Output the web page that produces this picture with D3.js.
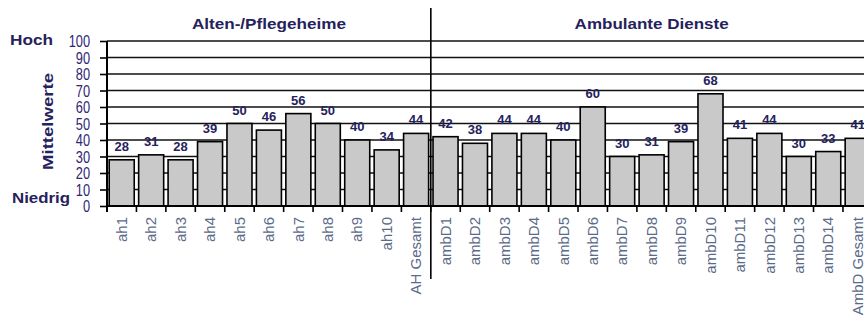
<!DOCTYPE html>
<html><head><meta charset="utf-8">
<script src="https://cdn.jsdelivr.net/npm/d3@7"></script>
<style>body{margin:0;background:#fff}svg{display:block}</style>
</head><body>
<svg id="c" width="864" height="327"></svg>
<script>
const ahCategories = ["ah1","ah2","ah3","ah4","ah5","ah6","ah7","ah8","ah9","ah10","AH Gesamt"];
const ahValues = [28,31,28,39,50,46,56,50,40,34,44];
const ambCategories = ["ambD1","ambD2","ambD3","ambD4","ambD5","ambD6","ambD7","ambD8","ambD9","ambD10","ambD11","ambD12","ambD13","ambD14","AmbD Gesamt"];
const ambValues = [42,38,44,44,40,60,30,31,39,68,41,44,30,33,41];
const yTicks = [0,10,20,30,40,50,60,70,80,90,100];
const groupTitles = ["Alten-/Pflegeheime","Ambulante Dienste"];

const categories = ahCategories.concat(ambCategories);
const values = ahValues.concat(ambValues);
const data = categories.map((c,i)=>({c, v: values[i]}));

const svg = d3.select("#c");
const navy = "#25225c";
const x = d3.scaleBand().domain(categories).range([107, 872.4]).paddingInner(0.15).paddingOuter(0.075);
const y = d3.scaleLinear().domain([0,100]).range([206, 41]);

// gridlines
svg.append("g").selectAll("line").data(yTicks.filter(d=>d>0)).join("line")
  .attr("x1", 107).attr("x2", 864).attr("y1", d=>y(d)).attr("y2", d=>y(d))
  .attr("stroke", "#111").attr("stroke-width", 1.6);

// bars
svg.append("g").selectAll("rect").data(data).join("rect")
  .attr("x", d=>x(d.c)).attr("width", x.bandwidth())
  .attr("y", d=>y(d.v)).attr("height", d=>y(0)-y(d.v))
  .attr("fill", "#c9c9c9").attr("stroke", "#000").attr("stroke-width", 1.6);

// value labels
svg.append("g").selectAll("text").data(data).join("text")
  .attr("x", d=>x(d.c)+x.bandwidth()/2).attr("y", d=>y(d.v)-9)
  .attr("text-anchor","middle")
  .attr("font-family","Liberation Sans, Arial, sans-serif").attr("font-weight","bold")
  .attr("font-size", 13).attr("fill", navy).text(d=>d.v);

// y axis
const yAxis = svg.append("g").attr("transform","translate(107,0)")
  .call(d3.axisLeft(y).tickValues(yTicks).tickSize(7).tickPadding(10));
yAxis.select(".domain").remove();
yAxis.selectAll(".tick line").attr("stroke","#000").attr("stroke-width",1.6);
yAxis.selectAll(".tick text").attr("font-family","Liberation Sans, Arial, sans-serif")
  .attr("font-size",16).attr("fill","#2e2673").attr("dy","0.36em")
  .attr("x", -17/0.8).attr("transform","scale(0.8,1)");
svg.append("line").attr("x1",107).attr("x2",107).attr("y1",y(100)).attr("y2",212)
  .attr("stroke","#000").attr("stroke-width",2);

// x axis
svg.append("line").attr("x1",107).attr("x2",864).attr("y1",y(0)).attr("y2",y(0))
  .attr("stroke","#000").attr("stroke-width",2.2);
const bounds = categories.map(c=>x(c) - x.step()*x.paddingInner()/2);
svg.append("g").selectAll("line").data(bounds).join("line")
  .attr("x1",d=>d).attr("x2",d=>d).attr("y1",y(0)).attr("y2",y(0)+6)
  .attr("stroke","#000").attr("stroke-width",1.6);

// x labels
svg.append("g").selectAll("text").data(categories).join("text")
  .attr("transform", d=>`translate(${x(d)+x.bandwidth()/2},217) rotate(-90)`)
  .attr("dy","0.35em").attr("text-anchor","end")
  .attr("font-family","Liberation Sans, Arial, sans-serif").attr("font-size",15)
  .attr("fill","#5b6a88").text(d=>d);

// divider
const divX = x(ambCategories[0]) - x.step()*x.paddingInner()/2;
svg.append("line").attr("x1",divX).attr("x2",divX).attr("y1",8).attr("y2",279)
  .attr("stroke","#000").attr("stroke-width",1.6);

// group titles
const g1c = (107 + divX)/2, g2c = (divX + 872.4)/2;
svg.append("g").selectAll("text").data(groupTitles).join("text")
  .attr("x",(d,i)=> i===0 ? g1c : g2c).attr("y",29).attr("text-anchor","middle")
  .attr("font-family","Liberation Sans, Arial, sans-serif").attr("font-weight","bold")
  .attr("font-size",15).attr("fill",navy)
  .attr("textLength",154).attr("lengthAdjust","spacingAndGlyphs").text(d=>d);

// side labels
svg.append("text").attr("x",10).attr("y",45).attr("font-family","Liberation Sans, Arial, sans-serif")
  .attr("font-weight","bold").attr("font-size",15).attr("fill",navy)
  .attr("textLength",43).attr("lengthAdjust","spacingAndGlyphs").text("Hoch");
svg.append("text").attr("x",12).attr("y",203).attr("font-family","Liberation Sans, Arial, sans-serif")
  .attr("font-weight","bold").attr("font-size",15).attr("fill",navy)
  .attr("textLength",58).attr("lengthAdjust","spacingAndGlyphs").text("Niedrig");
svg.append("text").attr("transform","translate(53,121.5) rotate(-90)").attr("text-anchor","middle")
  .attr("font-family","Liberation Sans, Arial, sans-serif").attr("font-weight","bold")
  .attr("font-size",15).attr("fill",navy)
  .attr("textLength",97).attr("lengthAdjust","spacingAndGlyphs").text("Mittelwerte");
</script>
</body></html>
